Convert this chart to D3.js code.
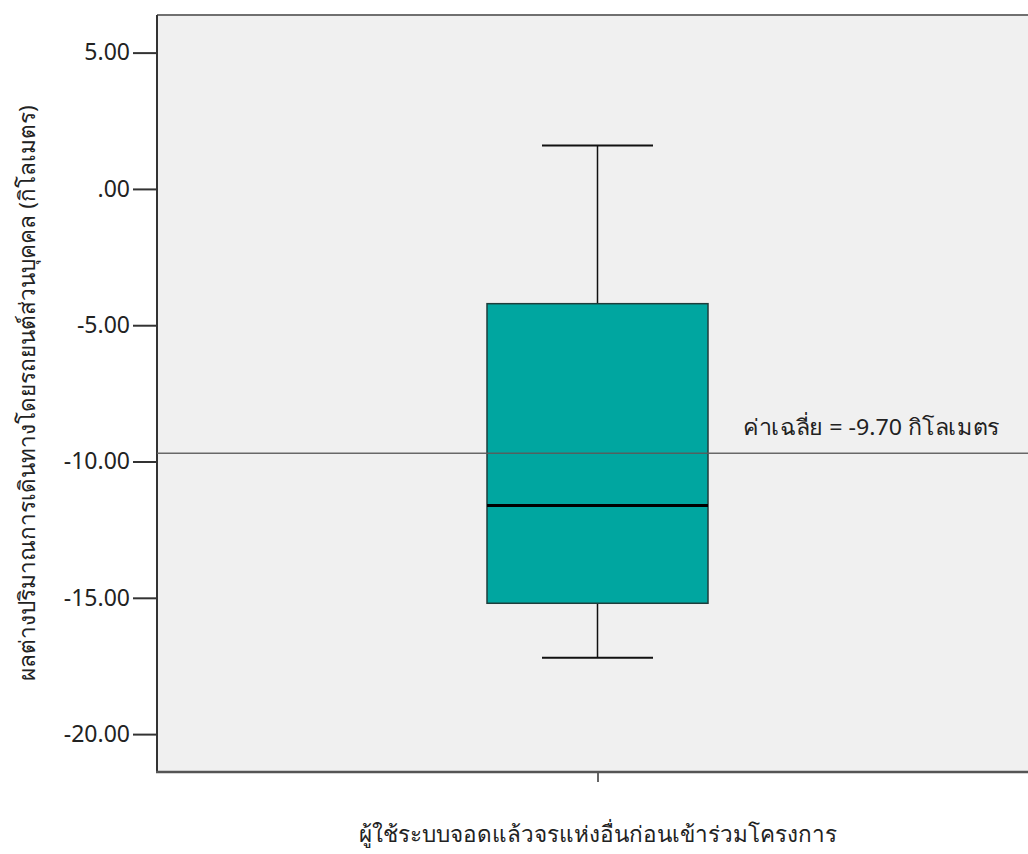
<!DOCTYPE html>
<html>
<head>
<meta charset="utf-8">
<script src="https://cdn.jsdelivr.net/npm/d3@7"></script>
<style>
  body { margin: 0; background: #fff; }
  svg text { font-family: "Noto Sans", "DejaVu Sans", sans-serif; fill: #222; }
</style>
</head>
<body>
<svg id="chart" width="1028" height="854"></svg>
<script>
// Box-plot summary of the change in personal car travel distance
const category = "ผู้ใช้ระบบจอดแล้วจรแห่งอื่นก่อนเข้าร่วมโครงการ";
const yLabel = "ผลต่างปริมาณการเดินทางโดยรถยนต์ส่วนบุคคล (กิโลเมตร)";
const whiskerLow = [-17.20];
const q1 = [-15.20];
const median = [-11.61];
const q3 = [-4.21];
const whiskerHigh = [1.59];
const meanValue = -9.70;
const meanLabel = "ค่าเฉลี่ย = -9.70 กิโลเมตร";
const yTicks = [5, 0, -5, -10, -15, -20];
const yTickLabels = ["5.00", ".00", "-5.00", "-10.00", "-15.00", "-20.00"];

const svg = d3.select("#chart");
const plot = { left: 157, top: 15, right: 1032, bottom: 772 };

const y = d3.scaleLinear().domain([-21.39, 6.38]).range([plot.bottom, plot.top]);
const x = d3.scaleBand().domain([category]).range([plot.left, 1039]).padding(0);

// plot background
svg.append("rect")
  .attr("x", plot.left).attr("y", plot.top)
  .attr("width", plot.right - plot.left).attr("height", plot.bottom - plot.top)
  .attr("fill", "#f0f0f0");

// top frame edge
svg.append("line").attr("x1", plot.left).attr("x2", plot.right)
  .attr("y1", plot.top).attr("y2", plot.top)
  .attr("stroke", "#707070").attr("stroke-width", 2);

// y axis
const yAxis = d3.axisLeft(y).tickValues(yTicks)
  .tickFormat((d, i) => yTickLabels[i]).tickSize(24).tickPadding(3);
const gy = svg.append("g").attr("transform", `translate(${plot.left},0)`).call(yAxis);
gy.select(".domain").remove();
gy.selectAll(".tick line").attr("stroke", "#333").attr("stroke-width", 2);
gy.selectAll(".tick text").style("font-size", "23px").attr("fill", "#333");
svg.append("line").attr("x1", plot.left).attr("x2", plot.left)
  .attr("y1", plot.top).attr("y2", plot.bottom + 1)
  .attr("stroke", "#333").attr("stroke-width", 2);

// x axis
const xAxis = d3.axisBottom(x).tickSize(10).tickFormat("");
const gx = svg.append("g").attr("transform", `translate(0,${plot.bottom})`).call(xAxis);
gx.select(".domain").remove();
gx.selectAll(".tick line").attr("stroke", "#333").attr("stroke-width", 1.5);
svg.append("line").attr("x1", plot.left - 1).attr("x2", plot.right)
  .attr("y1", plot.bottom).attr("y2", plot.bottom)
  .attr("stroke", "#555").attr("stroke-width", 2.5);

// box and whiskers
const cx = x(category) + x.bandwidth() / 2 - 0.5;
const boxW = 221, capW = 111;
const g = svg.append("g");
g.append("line").attr("x1", cx).attr("x2", cx)
  .attr("y1", y(whiskerHigh[0])).attr("y2", y(q3[0]))
  .attr("stroke", "#111").attr("stroke-width", 1.5);
g.append("line").attr("x1", cx).attr("x2", cx)
  .attr("y1", y(q1[0])).attr("y2", y(whiskerLow[0]))
  .attr("stroke", "#111").attr("stroke-width", 1.5);
[whiskerHigh[0], whiskerLow[0]].forEach(v => {
  g.append("line").attr("x1", cx - capW / 2).attr("x2", cx + capW / 2)
    .attr("y1", y(v)).attr("y2", y(v))
    .attr("stroke", "#111").attr("stroke-width", 2);
});
g.append("rect")
  .attr("x", cx - boxW / 2).attr("y", y(q3[0]))
  .attr("width", boxW).attr("height", y(q1[0]) - y(q3[0]))
  .attr("fill", "#00a6a0").attr("stroke", "#1e3d3b").attr("stroke-width", 1.5);
g.append("line").attr("x1", cx - boxW / 2).attr("x2", cx + boxW / 2)
  .attr("y1", y(median[0])).attr("y2", y(median[0]))
  .attr("stroke", "#000").attr("stroke-width", 3);

// mean reference line
svg.append("line").attr("x1", plot.left).attr("x2", plot.right)
  .attr("y1", y(meanValue)).attr("y2", y(meanValue))
  .attr("stroke", "#5a5a5a").attr("stroke-width", 1.5).attr("opacity", 0.9);
svg.append("text").attr("x", 743).attr("y", y(meanValue) - 18)
  .style("font-size", "22px")
  .attr("textLength", 257).attr("lengthAdjust", "spacingAndGlyphs")
  .text(meanLabel);

// axis titles
svg.append("text").attr("x", cx).attr("y", 842)
  .attr("text-anchor", "middle").style("font-size", "22.5px").text(category);
svg.append("text")
  .attr("transform", `translate(35,${393}) rotate(-90)`)
  .attr("text-anchor", "middle").style("font-size", "22.5px").text(yLabel);
</script>
</body>
</html>
